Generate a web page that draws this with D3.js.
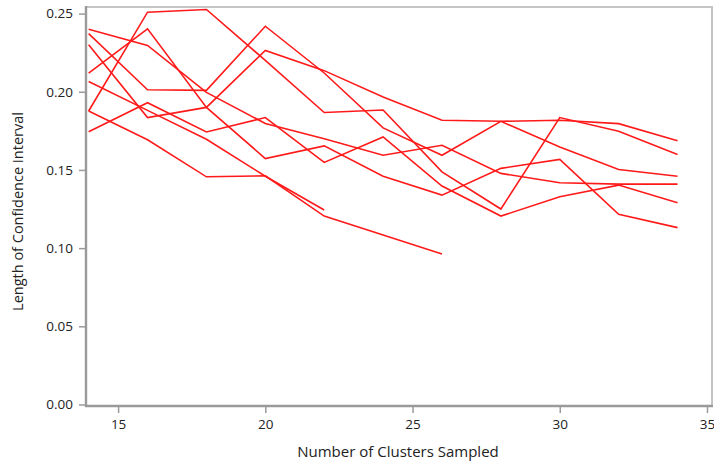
<!DOCTYPE html>
<html>
<head>
<meta charset="utf-8">
<script src="https://cdn.jsdelivr.net/npm/d3@7"></script>
<style>
  html, body { margin: 0; padding: 0; background: #fff; }
  svg { display: block; }
  text { font-family: "Open Sans", "DejaVu Sans", sans-serif; fill: #222; }
</style>
</head>
<body>
<svg id="chart" width="714" height="465"></svg>
<script>
// Data
const clusters = [14, 16, 18, 20, 22, 24, 26, 28, 30, 32, 34];
const series1 = [0.1877, 0.2509, 0.2526, 0.2200, 0.1867, 0.1883, 0.1488, 0.1250, 0.1835, 0.1747, 0.1599];
const series2 = [0.2372, 0.2013, 0.2009, 0.2419, 0.2120, 0.1769, 0.1594, 0.1811, 0.1647, 0.1503, 0.1460];
const series3 = [0.2301, 0.1835, 0.1900, 0.2264, 0.2135, 0.1966, 0.1818, 0.1811, 0.1818, 0.1796, 0.1686];
const series4 = [0.2119, 0.2402, 0.1900, 0.1573, 0.1654, 0.1460, 0.1339, 0.1510, 0.1567, 0.1216, 0.1131];
const series5 = [0.2400, 0.2296, 0.1996, 0.1797, 0.1700, 0.1594, 0.1658, 0.1478, 0.1418, 0.1409, 0.1409];
const series6 = [0.1744, 0.1930, 0.1743, 0.1835, 0.1548, 0.1711, 0.1397, 0.1205, 0.1329, 0.1403, 0.1290];
const series7 = [0.2066, 0.1881, 0.1696, 0.1460, 0.1244];
const series8 = [0.1877, 0.1693, 0.1456, 0.1462, 0.1205, 0.1084, 0.0963];
const allSeries = [series1, series2, series3, series4, series5, series6, series7, series8];
const xTicks = [15, 20, 25, 30, 35];
const yTicks = [0.00, 0.05, 0.10, 0.15, 0.20, 0.25];
const xTitle = "Number of Clusters Sampled";
const yTitle = "Length of Confidence Interval";

const svg = d3.select("#chart");
const L = 86, R = 712, T = 7, B = 406;

const x = d3.scaleLinear().domain([13.91, 35.17]).range([L, R]);
const y = d3.scaleLinear().domain([-0.00096, 0.2542]).range([B, T]);

// frame top/right
svg.append("rect")
  .attr("x", L).attr("y", T).attr("width", R - L).attr("height", B - T)
  .attr("fill", "none").attr("stroke", "#c4c4c4").attr("stroke-width", 2);

// lines
const line = d3.line().x((d, i) => x(clusters[i])).y(d => y(d));
svg.append("g").selectAll("path").data(allSeries).join("path")
  .attr("d", d => line(d))
  .attr("fill", "none")
  .attr("stroke", "#ff1a1a")
  .attr("stroke-width", 1.6)
  .attr("stroke-linejoin", "miter");

// axes
const yAxis = d3.axisLeft(y).tickValues(yTicks).tickFormat(d3.format(".2f")).tickSize(7).tickPadding(6);
const gy = svg.append("g").attr("transform", `translate(${L},0)`).call(yAxis);
const xAxis = d3.axisBottom(x).tickValues(xTicks).tickFormat(d3.format("d")).tickSize(7).tickPadding(6);
const gx = svg.append("g").attr("transform", `translate(0,${B})`).call(xAxis);

[gy, gx].forEach(g => {
  g.select(".domain").remove();
  g.selectAll(".tick line").attr("stroke", "#9a9a9a").attr("stroke-width", 1.5);
  g.selectAll(".tick text").attr("font-size", 13.5).attr("fill", "#222")
    .attr("font-family", '"Open Sans", "DejaVu Sans", sans-serif');
});

// left & bottom axis lines
svg.append("line").attr("x1", L).attr("x2", L).attr("y1", T - 1).attr("y2", B + 1)
  .attr("stroke", "#9a9a9a").attr("stroke-width", 2.4);
svg.append("line").attr("x1", L - 1).attr("x2", R + 1).attr("y1", B).attr("y2", B)
  .attr("stroke", "#9a9a9a").attr("stroke-width", 2.4);

// titles
svg.append("text").attr("x", 398).attr("y", 457).attr("text-anchor", "middle")
  .attr("font-size", 15).text(xTitle);
svg.append("text").attr("transform", `translate(23,${(T + B) / 2 + 5}) rotate(-90)`)
  .attr("text-anchor", "middle").attr("font-size", 14.5).text(yTitle);
</script>
</body>
</html>
